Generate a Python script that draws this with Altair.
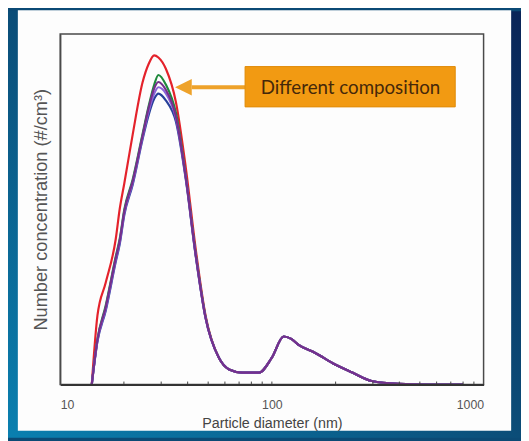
import altair as alt
import pandas as pd

# ---------------- data ----------------
diam = [14.1, 15.0, 16.4, 18.3, 19.1, 20.1, 22.0, 24.5, 26.2, 27.8, 29.1, 31.6, 35.2,
        39.2, 43.7, 48.6, 56.2, 62.8, 72.4, 86.8, 99.8, 113.7, 123.5, 133.7, 160.3,
        199.0, 240.0, 296.0, 395.0, 550.0, 800.0]

tail = [7.6, 4.3, 3.4, 3.4, 7.6, 13.7, 13.0, 11.3, 9.0, 5.7, 3.4, 1.0, 0.2, 0.0, 0.0]

red_vals = [0, 19.7, 29.0, 41.5, 50.0, 57.5, 71.3, 86.2, 91.5, 93.9, 93.3, 90.0, 80.6,
            61.9, 38.5, 19.7] + tail
green_vals = [0, 13.0, 22.5, 36.5, 41.5, 50.0, 58.5, 71.5, 79.5, 85.5, 88.3, 85.5, 77.5,
              59.5, 37.2, 19.3] + tail
blue_vals = [0, 12.3, 21.0, 35.0, 40.0, 48.5, 57.0, 70.0, 77.0, 81.5, 83.0, 81.0, 75.0,
             58.5, 36.5, 19.0] + tail
violet_vals = [0, 12.5, 21.5, 35.5, 40.5, 49.0, 57.5, 70.5, 78.0, 83.0, 84.8, 83.0, 76.0,
               59.0, 36.8, 19.0] + tail
purple_vals = [0, 12.8, 22.0, 36.0, 41.0, 49.5, 58.0, 71.0, 79.0, 84.5, 86.3, 84.0, 76.5,
               59.0, 36.8, 19.0] + tail

series_names = ["A", "B", "C", "D", "E"]
series_vals = [red_vals, green_vals, blue_vals, violet_vals, purple_vals]
series_colors = ["#e4222b", "#1f8a3c", "#27409a", "#8a63d9", "#74308c"]

x_ticks = [10, 100, 1000]
minor_ticks = [20, 30, 40, 50, 60, 70, 80, 90, 100, 200, 300, 400, 500, 600, 700, 800, 900]

x_title = "Particle diameter (nm)"
y_title = "Number concentration (#/cm³)"

# annotation (data coordinates)
box_x = [74.7, 734.6]
box_y = [90.7, 79.2]
label_pos = [235.0, 84.6]
label_text = "Different composition"
arrow_x = [41.8, 74.7]
arrow_y = 84.8
arrow_tip_x = 38.2

# ---------------- build ----------------
rows = []
for name, vals in zip(series_names, series_vals):
    for d, v in zip(diam, vals):
        rows.append({"s": name, "d": d, "v": v})
df = pd.DataFrame(rows)

W, H = 430, 356
SANS = "'Liberation Sans', Arial, sans-serif"

x_scale = alt.Scale(type="log", domain=[10, 1000], nice=False)
y_scale = alt.Scale(domain=[0, 100], nice=False, zero=True)

x_axis = alt.Axis(values=x_ticks, format="d", ticks=False, grid=False,
                  labelFont=SANS, labelFontSize=12.5, labelColor="#555",
                  labelPadding=14, title=x_title,
                  titleFont=SANS, titleFontSize=14.5, titleFontWeight="normal",
                  titleColor="#444", titlePadding=6,
                  domainColor="#333", domainWidth=2, zindex=1)
y_axis = alt.Axis(labels=False, ticks=False, grid=False, title=y_title,
                  titleFont=SANS, titleFontSize=18.5, titleFontWeight="normal",
                  titleColor="#555", titlePadding=10,
                  domainColor="#4a4a4a", domainWidth=1.5, zindex=1)

one = pd.DataFrame({"k": [0]})

bg = alt.Chart(one).mark_rect(
    fill=alt.Gradient(
        gradient="linear",
        stops=[alt.GradientStop(color="#0a80b0", offset=0),
               alt.GradientStop(color="#0b4d78", offset=0.5),
               alt.GradientStop(color="#0a2558", offset=1)],
        x1=0, y1=1, x2=1, y2=0)
).encode(x=alt.value(-53), x2=alt.value(468), y=alt.value(-23), y2=alt.value(410))

panel = alt.Chart(one).mark_rect(fill="#fdfdfd").encode(
    x=alt.value(-43), x2=alt.value(458), y=alt.value(-24), y2=alt.value(403))

frame = alt.Chart(one).mark_rect(filled=False, stroke="#4a4a4a", strokeWidth=1.5).encode(
    x=alt.value(0), x2=alt.value(W), y=alt.value(0), y2=alt.value(H))

lines = alt.Chart(df).mark_line(strokeWidth=2.2, interpolate="monotone").encode(
    x=alt.X("d:Q", scale=x_scale, axis=x_axis),
    y=alt.Y("v:Q", scale=y_scale, axis=y_axis),
    color=alt.Color("s:N", scale=alt.Scale(domain=series_names, range=series_colors),
                    legend=None),
)

tick_df = pd.DataFrame({"t": minor_ticks})
ticks = alt.Chart(tick_df).mark_rule(color="#444", strokeWidth=1).encode(
    x=alt.X("t:Q", scale=x_scale, axis=x_axis),
    y=alt.value(H - 3), y2=alt.value(H))

ann_df = pd.DataFrame({"x0": [box_x[0]], "x1": [box_x[1]], "y0": [box_y[0]], "y1": [box_y[1]],
                       "lx": [label_pos[0]], "ly": [label_pos[1]], "txt": [label_text],
                       "ax0": [arrow_x[0]], "ax1": [arrow_x[1]], "ay": [arrow_y],
                       "tx": [arrow_tip_x]})

box = alt.Chart(ann_df).mark_rect(fill="#f29a12", stroke="#e08a08", strokeWidth=1).encode(
    x=alt.X("x0:Q", scale=x_scale, axis=x_axis), x2="x1:Q",
    y=alt.Y("y0:Q", scale=y_scale, axis=y_axis), y2="y1:Q")

label = alt.Chart(ann_df).mark_text(font="Lato", fontSize=19, color="#45280a",
                                    align="center", baseline="middle").encode(
    x=alt.X("lx:Q", scale=x_scale, axis=x_axis),
    y=alt.Y("ly:Q", scale=y_scale, axis=y_axis), text="txt:N")

arrow_line = alt.Chart(ann_df).mark_rule(color="#eea22a", strokeWidth=4).encode(
    x=alt.X("ax0:Q", scale=x_scale, axis=x_axis), x2="ax1:Q",
    y=alt.Y("ay:Q", scale=y_scale, axis=y_axis))

arrow_head = alt.Chart(ann_df).mark_point(shape="M -1 0 L 1 -1 L 1 1 Z", filled=True,
                                          size=289, color="#eea22a", opacity=1).encode(
    x=alt.X("tx:Q", scale=x_scale, axis=x_axis),
    y=alt.Y("ay:Q", scale=y_scale, axis=y_axis))

chart = alt.layer(bg, panel, lines, ticks, frame, arrow_line, arrow_head, box, label).properties(
    width=W, height=H,
    autosize=alt.AutoSizeParams(type="none"),
    padding={"left": 53, "top": 23, "right": 38, "bottom": 54},
    background="#0b4a75",
).configure_view(strokeWidth=0)

chart.save("out.html", embed_options={"renderer": "svg", "actions": False})
